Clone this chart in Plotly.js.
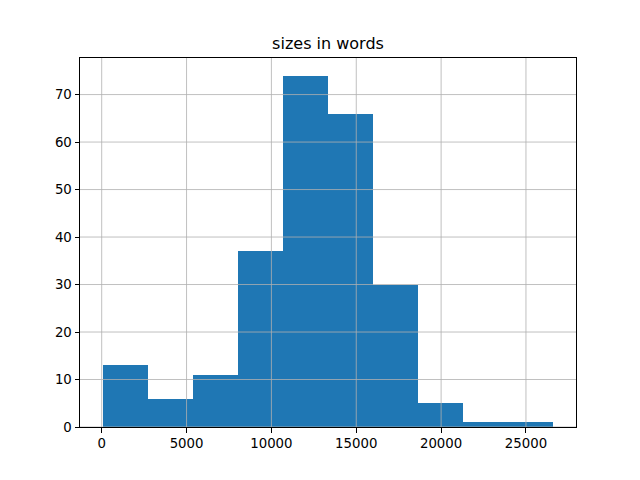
<!DOCTYPE html>
<html>
<head>
<meta charset="utf-8">
<script src="https://cdn.plot.ly/plotly-3.0.1.min.js"></script>
<style>body{margin:0;padding:0;background:#fff}</style>
</head>
<body>
<div id="chart" style="width:640px;height:480px"></div>
<script>
// Histogram bin edges (words) and counts
const binStart = 50;
const binEnd = 26620;
const binCount = 10;
const counts = [13, 6, 11, 37, 74, 66, 30, 5, 1, 1];
const xTicks = [0, 5000, 10000, 15000, 20000, 25000];
const yTicks = [0, 10, 20, 30, 40, 50, 60, 70];
const titleText = 'sizes in words';

const binWidth = (binEnd - binStart) / binCount;
const centers = counts.map((_, i) => binStart + binWidth * (i + 0.5));

const span = binEnd - binStart;
const xRange = [binStart - 0.05 * span, binEnd + 0.05 * span];
const yMax = Math.max(...counts) * 1.05;

const gridColor = '#b0b0b0';
const shapes = [];
xTicks.forEach(v => shapes.push({type:'line', layer:'above', xref:'x', yref:'paper', x0:v, x1:v, y0:0, y1:1, line:{color:gridColor, width:0.8}}));
yTicks.forEach(v => shapes.push({type:'line', layer:'above', xref:'paper', yref:'y', x0:0, x1:1, y0:v, y1:v, line:{color:gridColor, width:0.8}}));

const trace = {
  type: 'bar',
  x: centers,
  y: counts,
  width: counts.map(() => binWidth),
  marker: {color: '#1f77b4', line: {width: 0}},
  hoverinfo: 'x+y'
};

const axisCommon = {
  showgrid: false,
  zeroline: false,
  showline: true,
  linecolor: '#000',
  linewidth: 1,
  mirror: true,
  ticks: 'outside',
  ticklen: 4.5,
  tickwidth: 1,
  tickcolor: '#000',
  tickfont: {family: 'DejaVu Sans', size: 13.3, color: '#000'}
};

const layout = {
  width: 640,
  height: 480,
  margin: {l: 80, r: 64, t: 58, b: 53, pad: 0},
  paper_bgcolor: '#fff',
  plot_bgcolor: '#fff',
  showlegend: false,
  bargap: 0,
  title: {
    text: titleText,
    font: {family: 'DejaVu Sans', size: 16, color: '#000'},
    x: 0.5 * (80 + 576) / 640,
    xanchor: 'center',
    xref: 'container',
    yref: 'container',
    y: 1 - 43 / 480,
    yanchor: 'middle'
  },
  xaxis: Object.assign({}, axisCommon, {
    range: xRange,
    tickmode: 'array',
    tickvals: xTicks,
    ticktext: xTicks.map(String)
  }),
  yaxis: Object.assign({}, axisCommon, {
    range: [0, yMax],
    tickmode: 'array',
    tickvals: yTicks,
    ticktext: yTicks.map(String)
  }),
  shapes: shapes
};

Plotly.newPlot('chart', [trace], layout, {displayModeBar: false, staticPlot: true});
</script>
</body>
</html>
